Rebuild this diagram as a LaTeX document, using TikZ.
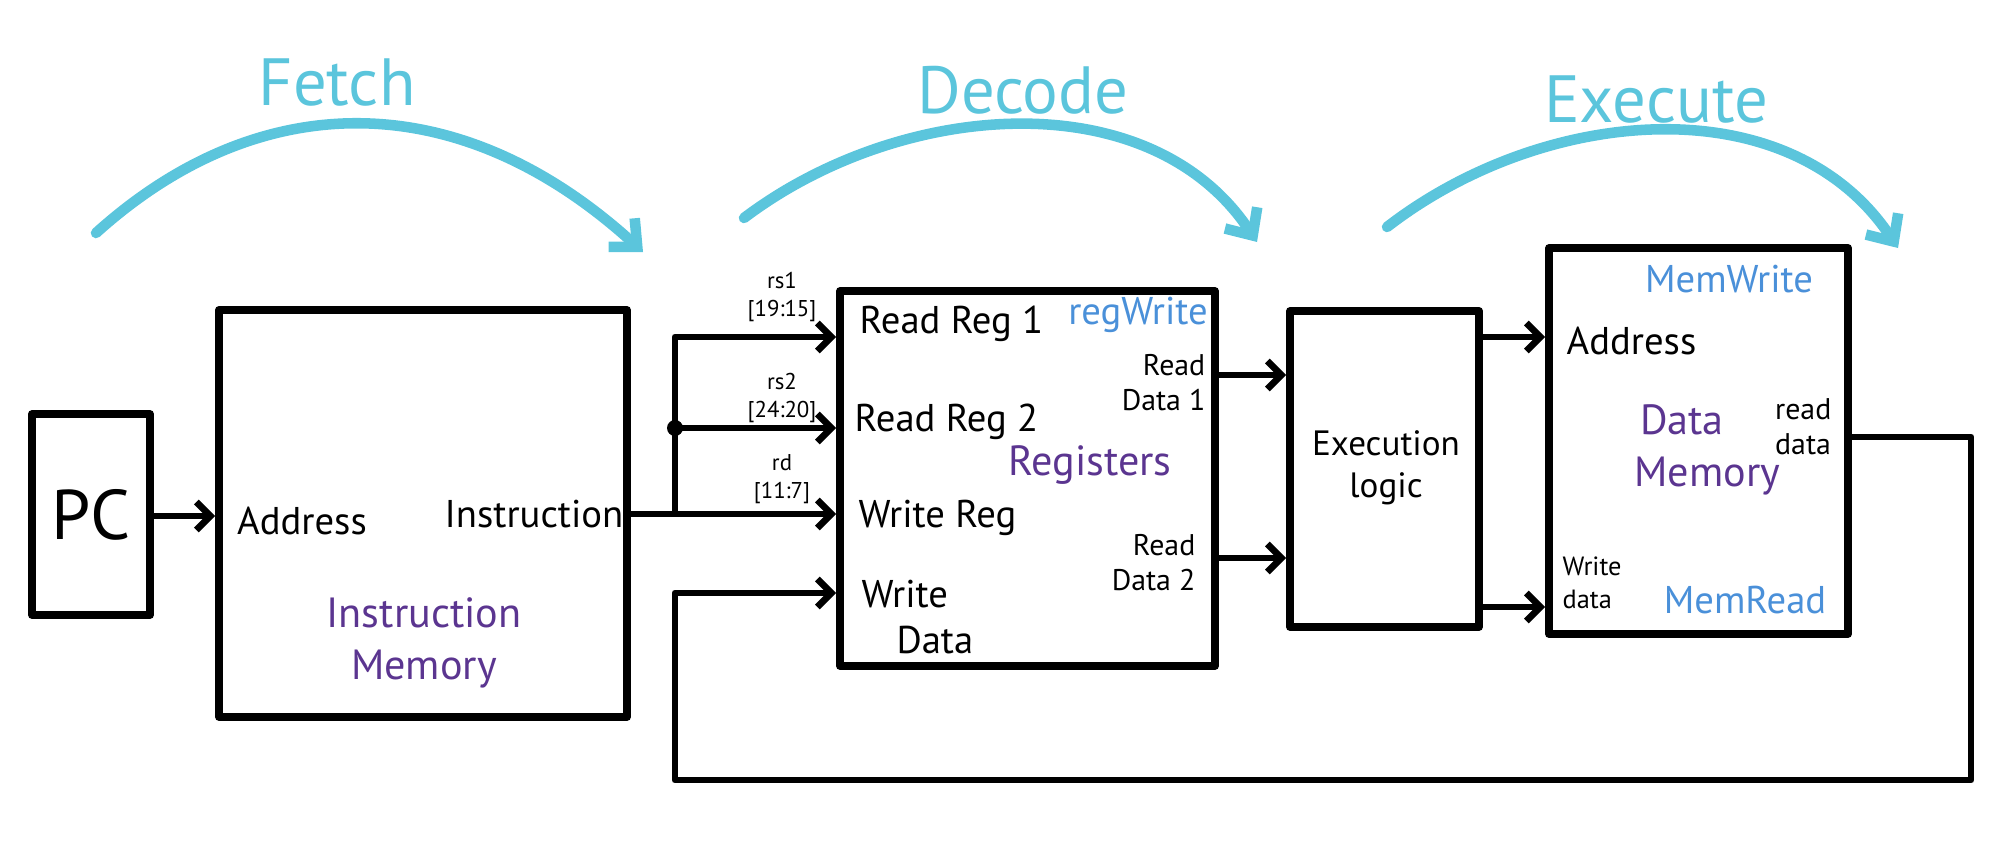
\documentclass[tikz,border=0pt]{standalone}
\usepackage{fontspec}
\setmainfont{PT Sans}
\usetikzlibrary{arrows.meta}
\definecolor{phasecyan}{HTML}{5BC5DC}
\definecolor{ctrlblue}{HTML}{4A90D9}
\definecolor{unitpurple}{HTML}{5B3590}

\begin{document}
\begin{tikzpicture}[
    unit/.style={rectangle, draw=black, line width=2.2pt, line join=round, inner sep=0pt},
    port/.style={font=\fontsize{11}{13}\selectfont, align=left, inner sep=0pt},
    smallport/.style={font=\fontsize{8.5}{10}\selectfont, align=left, inner sep=0pt},
    field/.style={font=\fontsize{6.5}{8}\selectfont, align=center, inner sep=0pt},
    ctrl/.style={font=\fontsize{11}{13}\selectfont, text=ctrlblue, inner sep=0pt},
    unitname/.style={font=\fontsize{12}{15}\selectfont, text=unitpurple, align=center, inner sep=0pt},
    phasename/.style={font=\fontsize{19}{21}\selectfont, text=phasecyan, inner sep=0pt},
    wire/.style={line width=1.9pt, line join=round},
    arr/.style={wire, -{Straight Barb[length=4pt, width=8pt]}},
    phase/.style={line width=3pt, draw=phasecyan, line cap=round,
                  -{Straight Barb[length=6pt, width=11pt]}}
]
\useasboundingbox (0,0) rectangle (20.16,-8.63);

\node[unit, minimum width=1.18cm, minimum height=2.01cm,
      font=\fontsize{20}{22}\selectfont] (pc) at (0.91,-5.145) {PC};
\node[unit, minimum width=4.08cm, minimum height=4.07cm] (im) at (4.23,-5.135) {};
\node[unit, minimum width=3.75cm, minimum height=3.75cm] (rf) at (10.275,-4.785) {};
\node[unit, minimum width=1.89cm, minimum height=3.16cm] (ex) at (13.845,-4.69) {};
\node[unit, minimum width=2.99cm, minimum height=3.86cm] (dm) at (16.985,-4.41) {};

\node[port] (imaddr) at (3.02,-5.21) {Address};
\node[port] (iminstr) at (5.34,-5.14) {Instruction};
\node[unitname] (imname) at (4.24,-6.43) {Instruction\\Memory};

\node[field] (rsone) at (7.82,-2.97) {rs1\\{[}19:15{]}};
\node[field] (rstwo) at (7.82,-3.98) {rs2\\{[}24:20{]}};
\node[field] (rdest) at (7.82,-4.79) {rd\\{[}11:7{]}};

\node[port, anchor=west] (rr1) at (8.59,-3.24) {Read Reg 1};
\node[port, anchor=west] (rr2) at (8.54,-4.22) {Read Reg 2};
\node[port, anchor=west] (wreg) at (8.58,-5.18) {Write Reg};
\node[port, anchor=west] (wdat) at (8.61,-6.17) {Write\\\hspace*{0.9em}Data};
\node[ctrl] (regwr) at (11.38,-3.15) {regWrite};
\node[unitname] (rfname) at (10.90,-4.65) {Registers};
\node[smallport, anchor=east, align=right] (rdo1) at (12.06,-3.83) {Read\\Data 1};
\node[smallport, anchor=east, align=right] (rdo2) at (11.96,-5.63) {Read\\Data 2};

\node[font=\fontsize{10}{12}\selectfont, align=center] (exname) at (13.86,-4.68) {Execution\\logic};

\node[ctrl] (memwr) at (17.29,-2.79) {MemWrite};
\node[port, anchor=west] (dmaddr) at (15.66,-3.41) {Address};
\node[unitname] (dmname) at (16.82,-4.50) {Data\\\hspace*{1.2em}Memory};
\node[smallport, anchor=east] (dmrd) at (18.32,-4.27) {read\\data};
\node[font=\fontsize{7.5}{9.5}\selectfont, align=left, inner sep=0pt, anchor=west] (dmwd) at (15.62,-5.83) {Write\\data};
\node[ctrl] (memrd) at (17.45,-6.00) {MemRead};

\coordinate (bus) at (6.75,-5.14);
\coordinate (rs1) at (6.75,-3.37);
\coordinate (rs2) at (6.75,-4.28);
\coordinate (wd) at (6.75,-5.93);
\coordinate (rd1) at (12.15,-3.75);
\coordinate (rd2) at (12.15,-5.58);
\coordinate (addr) at (14.79,-3.37);
\coordinate (wdm) at (14.79,-6.07);
\coordinate (rdat) at (18.48,-4.37);
\coordinate (loop) at (19.71,-7.80);

\draw[arr] (pc.east |- 0,-5.16) -- (im.west |- 0,-5.16);
\draw[arr] (im.east |- bus) -- (bus -| rf.west);
\draw[arr] (bus) |- (rs1 -| rf.west);
\draw[arr] (rs2) -- (rs2 -| rf.west);
\fill (rs2) circle (0.08);
\draw[arr] (dm.east |- rdat) -| (loop) -| (wd) -- (wd -| rf.west);

\draw[arr] (rf.east |- rd1) -- (rd1 -| ex.west);
\draw[arr] (rf.east |- rd2) -- (rd2 -| ex.west);
\draw[arr] (ex.east |- addr) -- (addr -| dm.west);
\draw[arr] (ex.east |- wdm) -- (wdm -| dm.west);

\coordinate (f0) at (0.96,-2.33);
\coordinate (f1) at (6.43,-2.52);
\coordinate (d0) at (7.44,-2.18);
\coordinate (d1) at (12.57,-2.42);
\coordinate (e0) at (13.87,-2.27);
\coordinate (e1) at (18.98,-2.48);
\draw[phase] (f0) .. controls (2.6,-0.85) and (4.6,-0.85) .. (f1);
\draw[phase] (d0) .. controls (9.0,-1.0) and (11.5,-0.8) .. (d1);
\draw[phase] (e0) .. controls (15.45,-1.05) and (17.9,-0.85) .. (e1);
\node[phasename] (fetch) at (3.37,-0.83) {Fetch};
\node[phasename] (decode) at (10.23,-0.90) {Decode};
\node[phasename] (execute) at (16.56,-1.00) {Execute};
\end{tikzpicture}
\end{document}
